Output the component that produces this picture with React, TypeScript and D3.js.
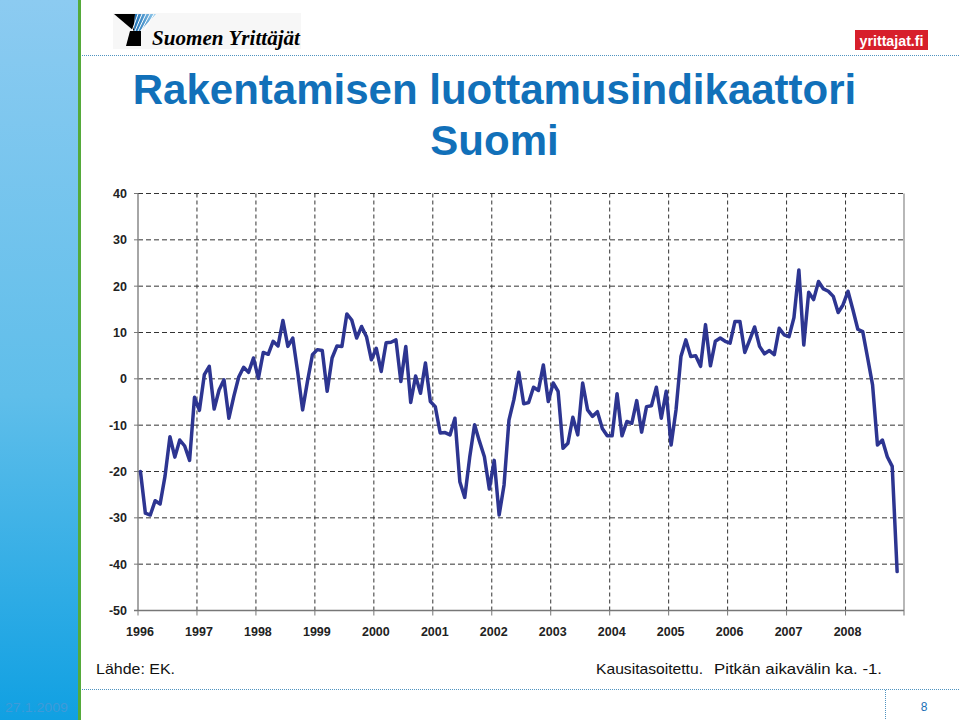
import React from "react";
import * as d3 from "d3";

const startYear = 1996;
const yearTicks = [1996, 1997, 1998, 1999, 2000, 2001, 2002, 2003, 2004, 2005, 2006, 2007, 2008];
const yTicks = [40, 30, 20, 10, 0, -10, -20, -30, -40, -50];

const v1996 = [-20, -29, -29.4, -26.3, -27, -21, -12.5, -16.9, -13.2, -14.5, -17.6, -4.0];
const v1997 = [-6.8, 0.9, 2.7, -6.5, -2.4, -0.2, -8.5, -3.8, 0.4, 2.5, 1.4, 4.5];
const v1998 = [0.1, 5.7, 5.3, 8.1, 7.1, 12.6, 7.0, 8.8, 1.5, -6.7, -0.5, 5.2];
const v1999 = [6.3, 6.1, -2.7, 4.5, 7.1, 7.0, 14.0, 12.7, 8.8, 11.3, 9.1, 4.1];
const v2000 = [6.6, 1.6, 7.8, 7.9, 8.4, -0.6, 7.0, -5.1, 0.6, -3.1, 3.4, -4.9];
const v2001 = [-6.0, -11.7, -11.6, -12.1, -8.5, -22.2, -25.6, -17, -9.9, -13.5, -16.8, -23.8];
const v2002 = [-17.6, -29.4, -22.9, -8.9, -4.5, 1.4, -5.4, -5.1, -1.8, -2.5, 3.0, -4.9];
const v2003 = [-0.9, -2.7, -15.0, -13.9, -8.3, -12.1, -0.9, -6.7, -8.1, -7.1, -10.7, -12.3];
const v2004 = [-12.3, -3.2, -12.3, -9.2, -9.6, -4.7, -11.5, -6.0, -5.8, -1.8, -8.5, -2.7];
const v2005 = [-14.3, -6.7, 4.8, 8.4, 4.8, 5.0, 2.7, 11.7, 2.8, 8.1, 8.8, 8.1];
const v2006 = [7.7, 12.4, 12.4, 5.7, 8.4, 11.2, 7.0, 5.4, 6.1, 5.2, 10.9, 9.5];
const v2007 = [9.1, 13.2, 23.5, 7.3, 18.7, 17.1, 21.0, 19.4, 18.9, 17.8, 14.3, 16.0];
const v2008 = [18.9, 14.9, 10.7, 10.2, 4.5, -1.3, -14.3, -13.2, -16.8, -18.9, -41.6];

const values = [
  ...v1996, ...v1997, ...v1998, ...v1999, ...v2000, ...v2001, ...v2002,
  ...v2003, ...v2004, ...v2005, ...v2006, ...v2007, ...v2008,
];

const titleLine1 = "Rakentamisen luottamusindikaattori";
const titleLine2 = "Suomi";

export default function App() {
  const x = d3.scaleLinear().domain([1996, 2009]).range([138, 904.5]);
  const y = d3.scaleLinear().domain([-50, 40]).range([610.5, 193.5]);

  const pts = values.map((v, i) => [x(startYear + (i + 0.5) / 12), y(v)] as [number, number]);
  const line = d3.line().curve(d3.curveLinear)(pts) || "";

  const boldFont = "'Liberation Sans', Arial, sans-serif";
  const narrow = "'Liberation Sans Narrow', 'Liberation Sans', Arial, sans-serif";

  return (
    <svg width={960} height={720} style={{ position: "absolute", left: 0, top: 0, background: "#fff" }}>
      <defs>
        <linearGradient id="barGrad" x1="0" y1="0" x2="0" y2="1">
          <stop offset="0" stopColor="#8ccbf1" />
          <stop offset="0.55" stopColor="#5fbeea" />
          <stop offset="1" stopColor="#10a0e2" />
        </linearGradient>
        <linearGradient id="stripes" x1="0" y1="0" x2="1" y2="0">
          <stop offset="0" stopColor="#1a6fb5" />
          <stop offset="1" stopColor="#9bd0ef" />
        </linearGradient>
      </defs>
      <rect x={0} y={0} width={960} height={720} fill="#fff" />
      {/* left bar */}
      <rect x={0} y={0} width={78} height={720} fill="url(#barGrad)" />
      <rect x={78} y={0} width={3} height={720} fill="#55aa3a" />

      {/* logo */}
      <rect x={113} y={13} width={188} height={36} fill="#f7f7f7" />
      <polygon points="114,14 135,14 134,31" fill="#000" />
      <polygon points="135,14 156,14 140,31 134,31" fill="url(#stripes)" />
      {[0, 1, 2, 3, 4].map((k) => (
        <line key={k} x1={138 + k * 4} y1={14} x2={132 + k * 3} y2={31} stroke="#fff" strokeWidth={1} />
      ))}
      <polygon points="130,31 141,31 141,46 126,46" fill="#000" />
      <text x={152} y={45} fontFamily="'Liberation Serif', 'Times New Roman', serif" fontStyle="italic" fontWeight="bold" fontSize={21} fill="#000" textLength={148} lengthAdjust="spacingAndGlyphs">
        Suomen Yrittäjät
      </text>

      {/* red box */}
      <rect x={855} y={30} width={73} height={20} fill="#d71f2b" />
      <text x={891.5} y={45.5} textAnchor="middle" fontFamily={narrow} fontWeight="bold" fontSize={15} fill="#fff" textLength={64} lengthAdjust="spacingAndGlyphs">
        yrittajat.fi
      </text>

      {/* top dotted line */}
      <line x1={82} x2={960} y1={55.5} y2={55.5} stroke="#4f93c0" strokeWidth={1} strokeDasharray="1,1" />

      {/* title */}
      <text x={494.5} y={104} textAnchor="middle" fontFamily={boldFont} fontWeight="bold" fontSize={42} fill="#1170b9">
        {titleLine1}
      </text>
      <text x={494.5} y={155} textAnchor="middle" fontFamily={boldFont} fontWeight="bold" fontSize={42} fill="#1170b9">
        {titleLine2}
      </text>

      {/* chart grid */}
      <g>
        {yTicks.filter((t) => t !== -50).map((t) => (
          <line key={"h" + t} x1={138} x2={904} y1={y(t)} y2={y(t)} stroke="#333" strokeWidth={1} strokeDasharray="5,3" />
        ))}
        {yearTicks.filter((t) => t !== 1996).map((t) => (
          <line key={"v" + t} x1={x(t)} x2={x(t)} y1={y(40)} y2={y(-50)} stroke="#333" strokeWidth={1} strokeDasharray="4,3" />
        ))}
        <line x1={138} x2={138} y1={y(40)} y2={y(-50)} stroke="#888" strokeWidth={1.5} />
        <line x1={904} x2={904} y1={y(40)} y2={y(-50) + 5} stroke="#888" strokeWidth={1.2} />
        <line x1={134} x2={904} y1={y(-50)} y2={y(-50)} stroke="#777" strokeWidth={1.5} />
        {yTicks.map((t) => (
          <line key={"yt" + t} x1={134} x2={138} y1={y(t)} y2={y(t)} stroke="#777" strokeWidth={1} />
        ))}
        {yearTicks.map((t) => (
          <line key={"xt" + t} x1={x(t)} x2={x(t)} y1={y(-50)} y2={y(-50) + 5} stroke="#777" strokeWidth={1} />
        ))}
        {yTicks.map((t) => (
          <text key={"yl" + t} x={127} y={y(t) + 4.5} textAnchor="end" fontFamily={boldFont} fontWeight="bold" fontSize={12.5} fill="#222">
            {t}
          </text>
        ))}
        {yearTicks.map((t) => (
          <text key={"xl" + t} x={x(t) + 2} y={636} textAnchor="middle" fontFamily={boldFont} fontWeight="bold" fontSize={12.5} fill="#222">
            {t}
          </text>
        ))}
      </g>

      {/* data line */}
      <path d={line} fill="none" stroke="#2d3591" strokeWidth={3.5} strokeLinejoin="round" strokeLinecap="round" />

      {/* footer */}
      <text x={96} y={674} fontFamily={narrow} fontSize={15} fill="#111" textLength={79} lengthAdjust="spacingAndGlyphs">
        Lähde: EK.
      </text>
      <text x={596} y={674} fontFamily={narrow} fontSize={15} fill="#111" textLength={107} lengthAdjust="spacingAndGlyphs">
        Kausitasoitettu.
      </text>
      <text x={714} y={674} fontFamily={narrow} fontSize={15} fill="#111" textLength={168} lengthAdjust="spacingAndGlyphs">
        Pitkän aikavälin ka. -1.
      </text>
      <line x1={82} x2={960} y1={689.5} y2={689.5} stroke="#4f93c0" strokeWidth={1} strokeDasharray="1,1" />
      <line x1={885.5} x2={885.5} y1={690} y2={720} stroke="#4f93c0" strokeWidth={1} strokeDasharray="1,1" />
      <text x={924} y={711} textAnchor="middle" fontFamily={narrow} fontSize={12} fill="#1a6fb5">
        8
      </text>
      <text x={5} y={712} fontFamily={narrow} fontSize={13} fill="#3f9ad8" textLength={63} lengthAdjust="spacingAndGlyphs">
        27.1.2009
      </text>
    </svg>
  );
}
